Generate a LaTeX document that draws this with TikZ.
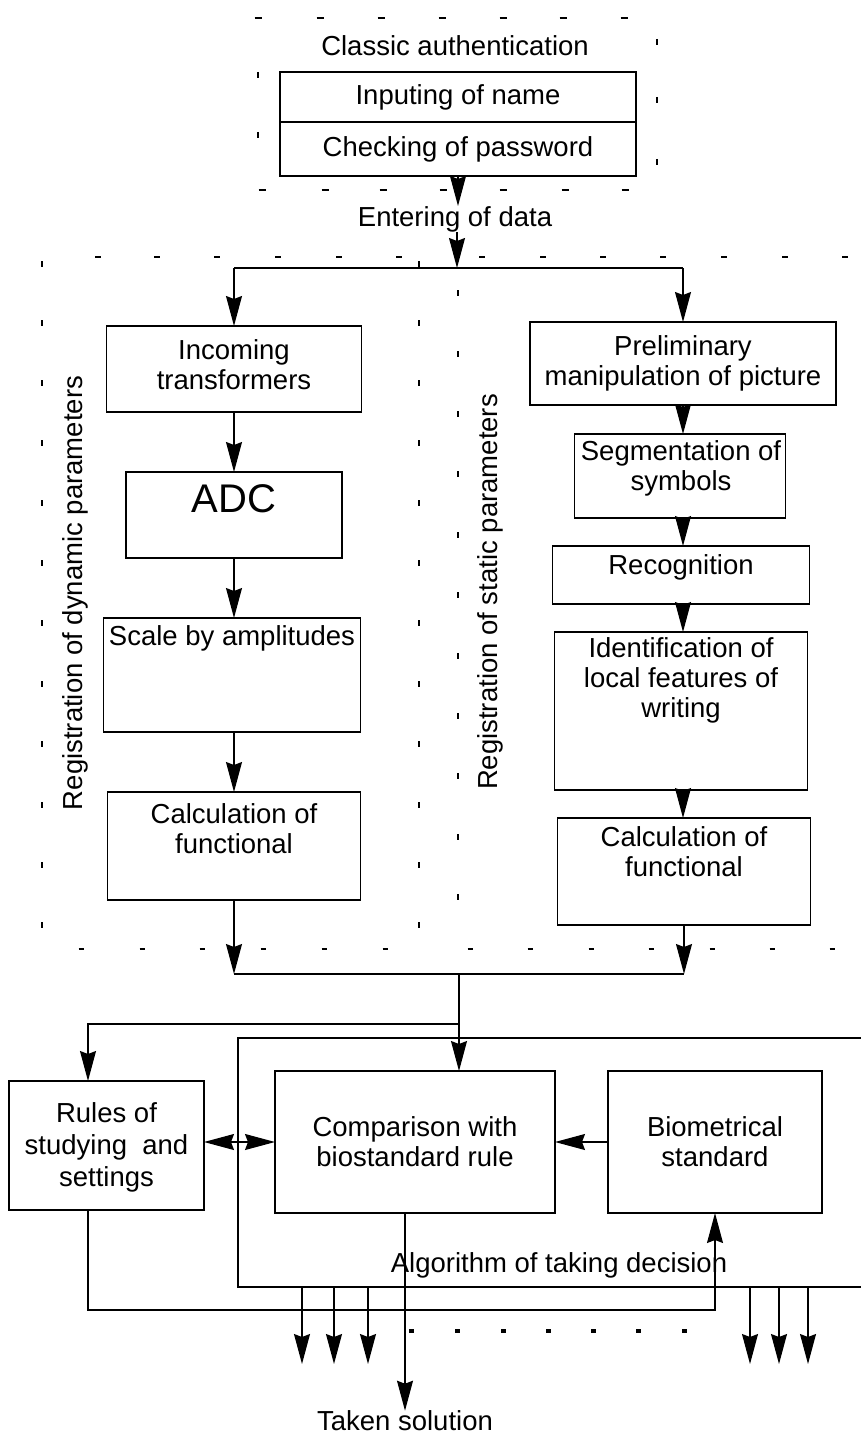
\documentclass[tikz,border=0pt]{standalone}
\usepackage{fontspec}
\setmainfont{Liberation Sans}
\usepackage{tikz}
\usetikzlibrary{arrows.meta,positioning,calc}

\tikzset{
    box/.style={draw, line width=1.3pt, inner sep=0pt, outer sep=0pt, anchor=north, align=center},
    txt/.style={align=center, inner sep=0pt},
    tip/.tip={Stealth[length=30pt,width=16pt,inset=3pt]},
    arr/.style={line width=1.2pt, -tip},
    dblarr/.style={line width=1.2pt, tip-tip},
    hdash/.style={line width=2pt},
    vtick/.style={line width=2.2pt},
}

\begin{document}
\begin{tikzpicture}[x=1pt, y=-1pt, font=\fontsize{27.5}{30}\selectfont]
    \useasboundingbox (0,0) rectangle (861,1434);

    % classic authentication
    \node[txt] (cls) at (455,46) {Classic authentication};
    \node[box, minimum width=356pt, minimum height=50pt] (nam) at (458,72) {Inputing of name};
    \node[box, minimum width=356pt, minimum height=54pt] (pwd) at (458,122) {Checking of password};
    \node[txt] (ent) at (455,219) {Entering of data};
    \draw[arr] (pwd.south) -- (pwd.south |- ent.north);
    \coordinate (j1) at (457,268);
    \draw[arr] (ent.south -| j1) -- (j1);

    % dynamic parameters
    \node[box, minimum width=255pt, minimum height=86pt] (inc) at (234,326) {};
    \node[txt] at (234,365) {Incoming\\transformers};
    \node[box, minimum width=216pt, minimum height=86pt] (adc) at (234,472) {};
    \node[txt, font=\fontsize{40}{44}\selectfont] at (234,499) {ADC};
    \node[box, minimum width=257pt, minimum height=114pt] (scl) at (232,618) {};
    \node[txt] at (232,638) {Scale by amplitudes};
    \node[box, minimum width=253pt, minimum height=108pt] (cfl) at (234,792) {};
    \node[txt] at (234,829) {Calculation of\\functional};

    % static parameters
    \node[box, minimum width=306pt, minimum height=83pt] (pre) at (683,322) {Preliminary\\manipulation of picture};
    \node[box, minimum width=211pt, minimum height=84pt] (seg) at (680,434) {};
    \node[txt] at (681,468) {Segmentation of\\symbols};
    \node[box, minimum width=257pt, minimum height=58pt] (rec) at (681,546) {};
    \node[txt] at (681,567) {Recognition};
    \node[box, minimum width=253pt, minimum height=158pt] (idf) at (681,632) {};
    \node[txt] at (681,680) {Identification of\\local features of\\writing};
    \node[box, minimum width=253pt, minimum height=107pt] (cfr) at (684,818) {};
    \node[txt] at (684,852) {Calculation of\\functional};

    \node[txt, rotate=90] (dyn) at (75,593) {Registration of dynamic parameters};
    \node[txt, rotate=90] (sta) at (490,592) {Registration of static parameters};

    \draw[line width=1.2pt] (inc.north |- j1) -- (pre.north |- j1);
    \draw[arr] (inc.north |- j1) -- (inc.north);
    \draw[arr] (pre.north |- j1) -- (pre.north);
    \draw[arr] (inc.south) -- (adc.north);
    \draw[arr] (adc.south) -- (scl.north -| adc.south);
    \draw[arr] (scl.south -| adc.south) -- (cfl.north);
    \draw[arr] (pre.south) -- (pre.south |- seg.north);
    \draw[arr] (pre.south |- seg.south) -- (pre.south |- rec.north);
    \draw[arr] (pre.south |- rec.south) -- (pre.south |- idf.north);
    \draw[arr] (pre.south |- idf.south) -- (pre.south |- cfr.north);

    % merging of both branches
    \coordinate (j2) at (459,974);
    \coordinate (j3) at (459,1024);
    \draw[arr] (cfl.south) -- (cfl.south |- j2);
    \draw[arr] (cfr.south) -- (cfr.south |- j2);
    \draw[line width=1.2pt] (cfl.south |- j2) -- (cfr.south |- j2);

    % decision block
    \draw[line width=1.3pt] (861,1038) -| (238,1287) -- (861,1287);
    \node[box, minimum width=195pt, minimum height=129pt] (rul) at (106.5,1081) {};
    \node[txt, font=\fontsize{27.5}{32}\selectfont] at (106.5,1147) {Rules of\\studying\ \ and\\settings};
    \node[box, minimum width=280pt, minimum height=142pt] (cmp) at (415,1071) {Comparison with\\biostandard rule};
    \node[box, minimum width=214pt, minimum height=142pt] (bio) at (715,1071) {Biometrical\\standard};
    \node[txt] (alg) at (559,1265) {Algorithm of taking decision};
    \node[txt] (sol) at (405,1421) {Taken solution};

    \draw[arr] (j2) -- (j2 |- cmp.north);
    \draw[arr] (j3) -| ([xshift=-18.5pt]rul.north);
    \draw[dblarr] (cmp.west -| rul.east) -- (cmp.west);
    \draw[arr] (bio.west) -- (cmp.east);
    \draw[arr] ([xshift=-18.5pt]rul.south) -- ++(0,100) -| (bio.south);
    \draw[arr] (cmp.south -| sol.north) -- (sol.north);
    \foreach \x in {302,334,368,750,779,808}
        \draw[arr] (\x,1287) -- (\x,1364);
    \foreach \x in {411,457,503,548,593,638,684}
        \fill (\x-2.5,1329) rectangle ++(5,4);

    % dotted borders
    \foreach \x in {258,320,381,442,503,563,624}
        \draw[hdash] (\x-3.5,18) -- (\x+3.5,18);
    \foreach \x in {262,325,383,443,503,565,625}
        \draw[hdash] (\x-3.5,190) -- (\x+3.5,190);
    \foreach \x in {98,157,217,278,339,399,482,543,603,663,724,785,845}
        \draw[hdash] (\x-3,257) -- (\x+3,257);
    \foreach \x in {81,142,202,263,324,385,470,530,591,651,712,772,832}
        \draw[hdash] (\x-2.5,949) -- (\x+2.5,949);
    \foreach \y in {42,100,162}
        \draw[vtick] (657,\y-3) -- (657,\y+3);
    \foreach \y in {75,135}
        \draw[vtick] (258,\y-3) -- (258,\y+3);
    \foreach \y in {264,323,383,443,503,563,623,684,744,805,865,925} {
        \draw[vtick] (42,\y-3) -- (42,\y+3);
        \draw[vtick] (419,\y-3) -- (419,\y+3);
    }
    \foreach \y in {293,354,414,474,535,595,656,716,776,837,897}
        \draw[vtick] (458,\y-3) -- (458,\y+3);
\end{tikzpicture}
\end{document}
